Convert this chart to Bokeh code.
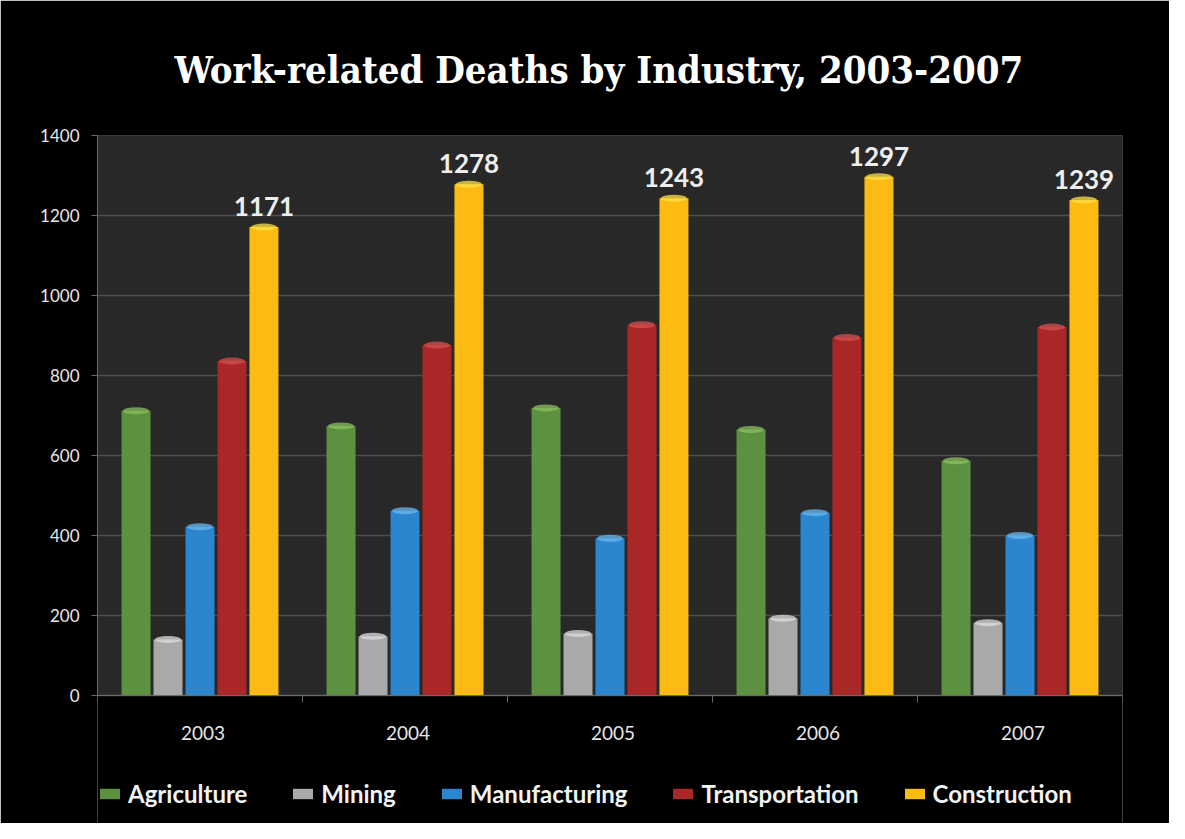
import math
from bokeh.plotting import figure
from bokeh.models import (ColumnDataSource, FixedTicker, Legend, LegendItem, Range1d,
                          BoxAnnotation, Span)
from bokeh.transform import dodge
from bokeh.embed import file_html
from bokeh.resources import INLINE
from bokeh.core.properties import value

# ---- data ----
years = ["2003", "2004", "2005", "2006", "2007"]
industries = ["Agriculture", "Mining", "Manufacturing", "Transportation", "Construction"]
agriculture = [712, 674, 719, 665, 587]
mining = [140, 148, 155, 193, 182]
manufacturing = [422, 462, 393, 457, 400]
transportation = [836, 876, 927, 895, 921]
construction = [1171, 1278, 1243, 1297, 1239]
y_ticks = [0, 200, 400, 600, 800, 1000, 1200, 1400]

colors = ["#5c9140", "#a9a9a9", "#2b86cf", "#aa2727", "#fcbb13"]
caps = ["#8cc060", "#dedede", "#6ab8ee", "#d65050", "#ffe24a"]
series = [agriculture, mining, manufacturing, transportation, construction]

idx = list(range(len(years)))
data = dict(idx=idx, years=years, base=[0] * len(years))
for name, vals in zip(industries, series):
    data[name] = vals
data["con_label"] = [str(v) for v in construction]
source = ColumnDataSource(data)

bounds_x = [i - 0.5 for i in range(len(years) + 1)]
tick_src = ColumnDataSource(dict(x=bounds_x, y=[0] * len(bounds_x)))

y_top = y_ticks[-1]
# the frame reaches the bottom of the page; the space under 0 holds year labels and legend
p = figure(width=1169, height=823, output_backend="svg", toolbar_location=None,
           x_range=Range1d(-0.5, len(years) - 0.5), y_range=Range1d(-320, y_top),
           x_axis_location=None,
           background_fill_color="black", border_fill_color="black",
           outline_line_color=None,
           min_border_left=97, min_border_right=47, min_border_top=135, min_border_bottom=0)

# grey plot area (0 .. 1400)
p.add_layout(BoxAnnotation(bottom=0, top=y_top, fill_color="#282828", fill_alpha=1.0,
                           line_alpha=0, level="image"))

p.title.text = "Work-related Deaths by Industry, 2003-2007"
p.title.align = "left"
p.title.text_font = "DejaVu Serif Condensed"
p.title.text_font_size = "38px"
p.title.text_font_style = "bold"
p.title.text_color = "white"
p.title.standoff = 88
p.title.offset = 77

step = 0.156
width = 0.1415
items = []
for i, (name, col, cap) in enumerate(zip(industries, colors, caps)):
    xs = dodge("idx", (i - 2) * step, range=p.x_range)
    r = p.vbar(x=xs, top=name, width=width, bottom=0, source=source,
               fill_color=col, line_color=None)
    p.ellipse(x=xs, y=name, width=width * 0.9, height=7, height_units="screen",
              source=source, fill_color=cap, fill_alpha=0.75, line_color=None)
    items.append(LegendItem(label=name, renderers=[r]))

p.text(x=dodge("idx", 2 * step, range=p.x_range), y="Construction", text="con_label",
       source=source, text_align="center", text_baseline="bottom", y_offset=-11,
       text_font=value("Lato"), text_font_style="bold", text_font_size="26px",
       text_color="#eeeeee")

# x axis drawn at value 0: line, boundary ticks and year labels
p.add_layout(Span(location=0, dimension="width", line_color="#6a6a6a", line_width=1))
p.ray(x="x", y="y", length=7, length_units="screen", angle=-math.pi / 2,
      source=tick_src, line_color="#6a6a6a", line_width=1)
p.text(x="idx", y="base", text="years", source=source, text_align="center",
       text_baseline="middle", x_offset=3, y_offset=37,
       text_font=value("Lato"), text_font_size="19px", text_color="#e6e6e6")

# y axis
p.yaxis.ticker = FixedTicker(ticks=y_ticks)
p.yaxis.bounds = (0, y_top)
p.yaxis.major_tick_out = 6
p.yaxis.major_tick_in = 0
p.yaxis.minor_tick_out = 0
p.yaxis.minor_tick_in = 0
p.yaxis.major_label_standoff = 12
p.yaxis.axis_line_color = "#6a6a6a"
p.yaxis.major_tick_line_color = "#6a6a6a"
p.yaxis.major_label_text_font = "Lato"
p.yaxis.major_label_text_font_size = "17px"
p.yaxis.major_label_text_color = "#e6e6e6"

p.xgrid.grid_line_color = None
p.ygrid.ticker = FixedTicker(ticks=y_ticks)
p.ygrid.grid_line_color = "#4e4e4e"
p.ygrid.grid_line_width = 1.5

legend = Legend(items=items, orientation="horizontal", location=(0, 15),
                glyph_width=25, glyph_height=13, label_standoff=6, spacing=43,
                padding=2, margin=0, background_fill_alpha=0, border_line_color=None,
                label_text_font="Lato", label_text_font_style="bold",
                label_text_font_size="24px", label_text_color="#f2f2f2")
p.add_layout(legend)

open("out.html", "w").write(file_html(p, INLINE))
